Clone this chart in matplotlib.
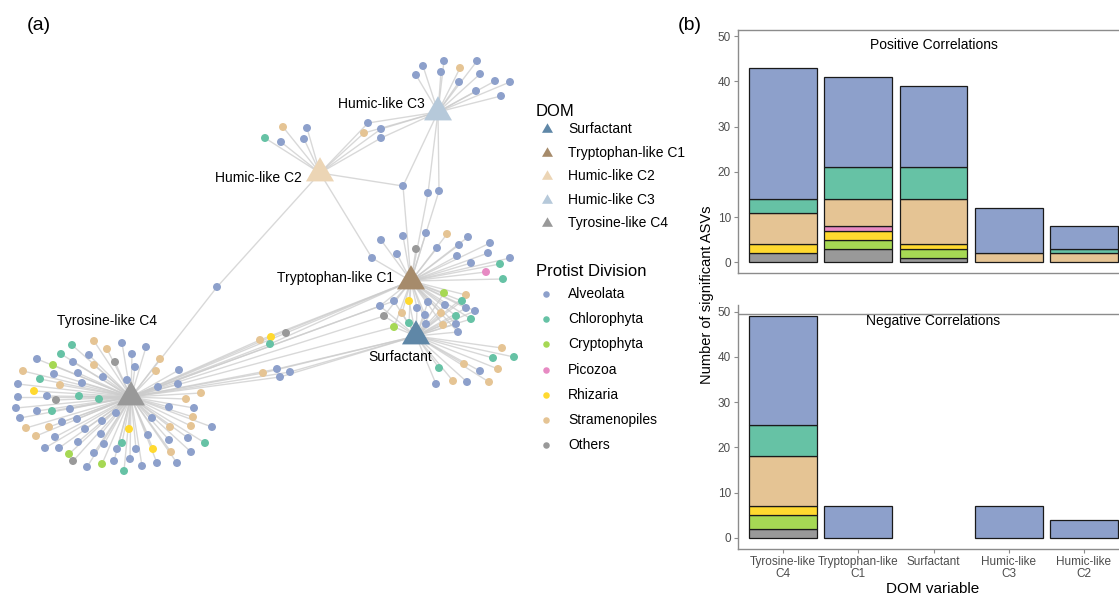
import numpy as np
import matplotlib
matplotlib.use('Agg')
import matplotlib.pyplot as plt

plt.rcParams['font.family'] = ['Liberation Sans', 'DejaVu Sans']

# protist divisions
divisions = ['Alveolata', 'Chlorophyta', 'Cryptophyta', 'Picozoa', 'Rhizaria', 'Stramenopiles', 'Others']
div_codes = ['A', 'C', 'Y', 'P', 'R', 'S', 'O']
div_colors = ['#8da0cb', '#66c2a5', '#a6d854', '#e78ac3', '#ffd92f', '#e5c494', '#999999']
code_color = dict(zip(div_codes, div_colors))

# DOM hubs of the network (pixel layout of the original figure)
dom_names = ['Surfactant', 'Tryptophan-like C1', 'Humic-like C2', 'Humic-like C3', 'Tyrosine-like C4']
dom_keys = ['Surf', 'C1', 'C2', 'C3', 'C4']
dom_x = [416, 411, 320, 438, 131]
dom_y = [336, 281, 173, 112, 397]
dom_colors = ['#5f87a7', '#a68b6b', '#ecd5b5', '#b6c9da', '#999999']

# ASV nodes: (x, y, division)
tyr_nodes = [(72,345,'C'),(94,341,'S'),(107,349,'S'),(122,343,'A'),(146,347,'A'),(61,354,'C'),(89,355,'A'),
             (132,354,'A'),(115,362,'O'),(160,359,'S'),(37,359,'A'),(53,365,'Y'),(73,362,'A'),(94,365,'S'),
             (135,367,'A'),(23,371,'S'),(54,374,'A'),(78,373,'A'),(103,377,'A'),(156,371,'S'),(179,370,'A'),
             (40,379,'C'),(127,380,'A'),(18,384,'A'),(60,385,'S'),(82,383,'A'),(178,384,'A'),(158,387,'A'),
             (34,391,'R'),(47,396,'A'),(18,397,'A'),(56,400,'O'),(79,396,'C'),(99,399,'C'),(201,393,'S'),
             (186,399,'S'),(16,408,'A'),(37,411,'A'),(52,411,'C'),(70,409,'A'),(116,413,'A'),(169,407,'A'),
             (194,408,'A'),(20,418,'A'),(77,419,'A'),(62,422,'A'),(102,421,'A'),(152,418,'A'),(193,417,'S'),
             (26,428,'S'),(49,427,'S'),(85,429,'A'),(129,429,'R'),(170,427,'S'),(191,426,'S'),(212,427,'A'),
             (36,436,'S'),(55,437,'A'),(101,434,'A'),(148,435,'A'),(169,440,'A'),(188,438,'A'),(205,443,'C'),
             (45,448,'A'),(59,448,'A'),(78,442,'A'),(104,444,'A'),(122,443,'C'),(136,449,'A'),(153,449,'R'),
             (69,454,'Y'),(94,453,'A'),(117,449,'A'),(171,452,'S'),(191,452,'A'),(73,461,'O'),(87,467,'A'),
             (102,464,'Y'),(114,461,'A'),(130,459,'A'),(142,466,'A'),(157,463,'A'),(177,463,'A'),(124,471,'C')]
trp_nodes = [(381,240,'A'),(403,236,'A'),(426,233,'A'),(447,234,'S'),(468,237,'A'),(416,249,'O'),(437,248,'A'),
             (459,245,'A'),(490,243,'A'),(397,254,'A'),(457,256,'A'),(488,253,'A'),(471,263,'A'),(500,264,'C'),
             (510,258,'A'),(486,272,'P'),(503,279,'C')]
mid_nodes = [(444,293,'Y'),(466,295,'S'),(428,302,'A'),(445,305,'A'),(462,301,'C'),(466,308,'A'),(475,311,'A'),
             (402,313,'S'),(417,308,'A'),(425,315,'A'),(441,313,'S'),(456,316,'C'),(471,319,'C'),(409,323,'C'),
             (426,324,'A'),(443,325,'S'),(456,324,'A'),(458,332,'A'),(409,301,'R')]
surf_nodes = [(502,348,'S'),(493,358,'C'),(514,357,'C'),(464,364,'S'),(439,368,'C'),(480,371,'A'),(498,369,'S'),
              (453,381,'S'),(467,382,'A'),(489,382,'S'),(436,384,'A')]
hc3_nodes = [(423,66,'A'),(444,61,'A'),(477,61,'A'),(460,68,'S'),(416,75,'A'),(441,72,'A'),(480,74,'A'),
             (459,82,'A'),(495,81,'A'),(510,82,'A'),(476,91,'A'),(501,96,'A')]
hc2_nodes = [(283,127,'S'),(307,128,'A'),(265,138,'C'),(281,142,'A'),(304,139,'A')]
# nodes linked to more than one DOM component
shared_nodes = [(368,123,'A','C2 C3'),(381,129,'A','C2 C3'),(364,133,'S','C2 C3'),(381,138,'A','C2 C3'),
                (403,186,'A','C2 C3 C1'),(428,193,'A','C3 C1'),(439,191,'A','C3 C1'),(372,258,'A','C2 C1'),
                (217,287,'A','C2 C4'),(260,340,'S','C4 C1'),(271,337,'R','C4 C1'),(270,344,'C','C4 C1'),
                (286,333,'O','C4 C1'),(263,373,'S','C4 Surf'),(277,369,'A','C4 Surf'),(280,377,'A','C4 Surf'),
                (290,372,'A','C4 Surf'),(380,306,'A','C4 C1 Surf'),(394,301,'A','C4 C1 Surf'),
                (384,316,'O','C4 C1 Surf'),(394,327,'Y','C4 C1 Surf')]

# bar chart: number of significant ASVs per DOM variable
categories = ['Tyrosine-like\nC4', 'Tryptophan-like\nC1', 'Surfactant', 'Humic-like\nC3', 'Humic-like\nC2']
stack_order = ['Others', 'Cryptophyta', 'Rhizaria', 'Picozoa', 'Stramenopiles', 'Chlorophyta', 'Alveolata']
pos_counts = {
    'Others':        [2, 3, 1, 0, 0],
    'Cryptophyta':   [0, 2, 2, 0, 0],
    'Rhizaria':      [2, 2, 1, 0, 0],
    'Picozoa':       [0, 1, 0, 0, 0],
    'Stramenopiles': [7, 6, 10, 2, 2],
    'Chlorophyta':   [3, 7, 7, 0, 1],
    'Alveolata':     [29, 20, 18, 10, 5],
}
neg_counts = {
    'Others':        [2, 0, 0, 0, 0],
    'Cryptophyta':   [3, 0, 0, 0, 0],
    'Rhizaria':      [2, 0, 0, 0, 0],
    'Picozoa':       [0, 0, 0, 0, 0],
    'Stramenopiles': [11, 0, 0, 0, 0],
    'Chlorophyta':   [7, 0, 0, 0, 0],
    'Alveolata':     [24, 7, 0, 7, 4],
}

W, H = 1119, 596
fig = plt.figure(figsize=(W / 100, H / 100), dpi=100)

# ---------------- (a) network ----------------
net = fig.add_axes([0, 0, 1, 1])
net.set_xlim(0, W)
net.set_ylim(H, 0)
net.axis('off')

nodes = [(x, y, c, 'C4') for x, y, c in tyr_nodes]
nodes += [(x, y, c, 'C1') for x, y, c in trp_nodes]
nodes += [(x, y, c, 'C1 Surf') for x, y, c in mid_nodes]
nodes += [(x, y, c, 'Surf') for x, y, c in surf_nodes]
nodes += [(x, y, c, 'C3') for x, y, c in hc3_nodes]
nodes += [(x, y, c, 'C2') for x, y, c in hc2_nodes]
nodes += shared_nodes

hub_pos = {k: (dom_x[i], dom_y[i]) for i, k in enumerate(dom_keys)}
for x, y, c, links in nodes:
    for k in links.split():
        hx, hy = hub_pos[k]
        net.plot([hx, x], [hy, y], color='#cccccc', lw=1.0, alpha=0.75, zorder=1, solid_capstyle='round')

net.scatter([n[0] for n in nodes], [n[1] for n in nodes], s=33,
            c=[code_color[n[2]] for n in nodes], linewidths=0, zorder=2)

tri = [(-1, -0.6), (1, -0.6), (0, 1.13)]
net.scatter(dom_x, dom_y, s=520, marker=tri, c=dom_colors, linewidths=0, zorder=3)

lab_fs = 10
net.text(157, 321, 'Tyrosine-like C4', fontsize=lab_fs, ha='right', va='center', zorder=4)
net.text(394, 278, 'Tryptophan-like C1', fontsize=lab_fs, ha='right', va='center', zorder=4)
net.text(302, 178, 'Humic-like C2', fontsize=lab_fs, ha='right', va='center', zorder=4)
net.text(425, 104, 'Humic-like C3', fontsize=lab_fs, ha='right', va='center', zorder=4)
net.text(400, 357, 'Surfactant', fontsize=lab_fs, ha='center', va='center', zorder=4)

# legends
net.text(536, 111, 'DOM', fontsize=12, ha='left', va='center')
for i, name in enumerate(dom_names):
    ly = 129 + 23.5 * i
    net.scatter([547], [ly], s=80, marker=tri, c=[dom_colors[i]], linewidths=0)
    net.text(568, ly, name, fontsize=10, ha='left', va='center')

net.text(536, 272, 'Protist Division', fontsize=12, ha='left', va='center')
for i, name in enumerate(divisions):
    ly = 294 + 25.2 * i
    net.scatter([546], [ly], s=22, c=[div_colors[i]], linewidths=0)
    net.text(568, ly, name, fontsize=10, ha='left', va='center')

net.text(39, 26, '(a)', fontsize=14, ha='center', va='center')
net.text(690, 25, '(b)', fontsize=14, ha='center', va='center')

# ---------------- (b) stacked bars ----------------
def draw_bars(ax, counts, title):
    xs = np.arange(1, len(categories) + 1)
    bottom = np.zeros(len(categories))
    for div in stack_order:
        vals = np.array(counts[div], dtype=float)
        keep = vals > 0
        ax.bar(xs[keep], vals[keep], bottom=bottom[keep], width=0.9,
               color=div_colors[divisions.index(div)], edgecolor='#1a1a1a', linewidth=0.9)
        bottom += vals
    ax.set_xlim(0.4, 5.6)
    ax.set_ylim(-2.45, 51.45)
    ax.set_yticks([0, 10, 20, 30, 40, 50])
    ax.set_xticks(xs)
    for s in ax.spines.values():
        s.set_color('#8c8c8c')
        s.set_linewidth(1.0)
    ax.tick_params(colors='#8c8c8c', labelcolor='#4d4d4d', labelsize=8.5, length=3, width=0.8, pad=2)
    ax.text(3, 48, title, fontsize=10, ha='center', va='center')

ax_pos = fig.add_axes([738 / W, 1 - 273.5 / H, 391 / W, 244 / H])
draw_bars(ax_pos, pos_counts, 'Positive Correlations')
ax_pos.tick_params(axis='x', bottom=False, labelbottom=False)

ax_neg = fig.add_axes([738 / W, 1 - 549 / H, 391 / W, 244 / H])
draw_bars(ax_neg, neg_counts, 'Negative Correlations')
ax_neg.spines['top'].set_visible(False)
ax_neg.axhline(49.45, color='#8c8c8c', lw=1.0)
ax_neg.set_xticklabels(categories)
for t in ax_neg.get_xticklabels():
    t.set_linespacing(1.0)

fig.text(707 / W, 1 - 295 / H, 'Number of significant ASVs', rotation=90, fontsize=10.5,
         ha='center', va='center')
fig.text(933 / W, 1 - 589 / H, 'DOM variable', fontsize=11, ha='center', va='center')

fig.savefig('out.png', dpi=100)
